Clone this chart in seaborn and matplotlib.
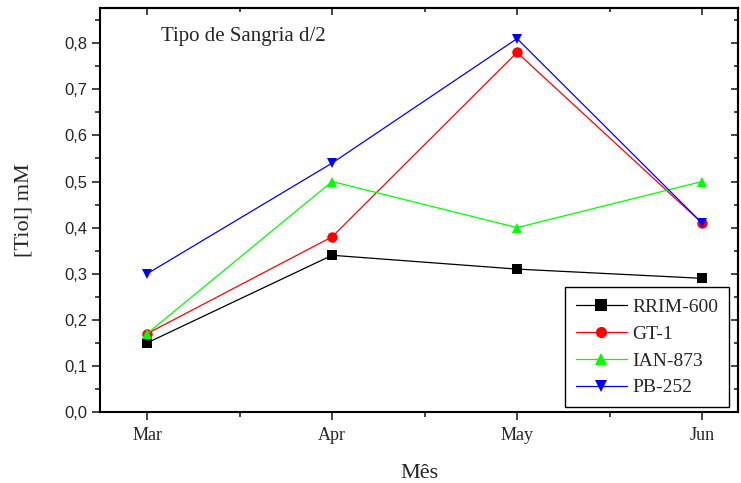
import matplotlib
matplotlib.use("Agg")
import matplotlib.pyplot as plt
import seaborn as sns
import pandas as pd
from matplotlib.ticker import MultipleLocator, FixedLocator

months = ["Mar", "Apr", "May", "Jun"]
series_names = ["RRIM-600", "GT-1", "IAN-873", "PB-252"]
rrim600 = [0.15, 0.34, 0.31, 0.29]
gt1 = [0.17, 0.38, 0.78, 0.41]
ian873 = [0.17, 0.50, 0.40, 0.50]
pb252 = [0.30, 0.54, 0.81, 0.41]
yticks = [0.0, 0.1, 0.2, 0.3, 0.4, 0.5, 0.6, 0.7, 0.8]
ytick_labels = ["0,0", "0,1", "0,2", "0,3", "0,4", "0,5", "0,6", "0,7", "0,8"]

rows = []
for name, vals in zip(series_names, [rrim600, gt1, ian873, pb252]):
    for i, (m, v) in enumerate(zip(months, vals)):
        rows.append({"pos": i, "Mês": m, "Tiol": v, "Clone": name})
df = pd.DataFrame(rows)

sns.set_style("ticks")
serif = ["Liberation Serif", "DejaVu Serif"]
sans = ["Liberation Sans", "DejaVu Sans"]

fig = plt.figure(figsize=(7.41, 4.83), dpi=100)
ax = fig.add_axes([0.135, 0.147, 0.861, 0.836])

palette = {"RRIM-600": "#000000", "GT-1": "#ff0000", "IAN-873": "#00ff00", "PB-252": "#0000ff"}
markers = {"RRIM-600": "s", "GT-1": "o", "IAN-873": "^", "PB-252": "v"}
sns.lineplot(data=df, x="pos", y="Tiol", hue="Clone", style="Clone",
             palette=palette, markers=markers, dashes=False, linewidth=0.9,
             markersize=7.5, markeredgewidth=0, ax=ax, legend=True)

ax.set_xlim(-0.255, 3.195)
ax.set_ylim(0, 0.876)
ax.xaxis.set_major_locator(FixedLocator([0, 1, 2, 3]))
ax.set_xticklabels(months, fontfamily=serif, fontsize=13)
ax.xaxis.set_minor_locator(FixedLocator([0.5, 1.5, 2.5]))
ax.yaxis.set_major_locator(FixedLocator(yticks))
ax.set_yticklabels(ytick_labels, fontfamily=sans, fontsize=12)
ax.yaxis.set_minor_locator(MultipleLocator(0.05))

ax.tick_params(which="both", direction="out", width=1.2, top=False, right=False)
ax.tick_params(which="major", length=6, pad=3)
ax.tick_params(which="minor", length=3.5)
ax.tick_params(axis="x", which="major", pad=5)

# inward ticks on top and right
secx = ax.secondary_xaxis("top")
secx.set_xticks([0, 1, 2, 3])
secx.xaxis.set_minor_locator(FixedLocator([0.5, 1.5, 2.5]))
secx.tick_params(which="both", direction="in", width=1.2, labeltop=False)
secx.tick_params(which="major", length=5)
secx.tick_params(which="minor", length=3)
secy = ax.secondary_yaxis("right")
secy.set_yticks(yticks)
secy.yaxis.set_minor_locator(MultipleLocator(0.05))
secy.tick_params(which="both", direction="in", width=1.2, labelright=False)
secy.tick_params(which="major", length=5)
secy.tick_params(which="minor", length=3)

for s in ax.spines.values():
    s.set_linewidth(1.5)
    s.set_color("black")
for sec in (secx, secy):
    for s in sec.spines.values():
        s.set_linewidth(1.5)

ax.set_xlabel("Mês", fontfamily=serif, fontsize=16, labelpad=14)
ax.set_ylabel("[Tiol] mM", fontfamily=serif, fontsize=16, labelpad=22)

ax.text(0.096, 0.93, "Tipo de Sangria d/2", transform=ax.transAxes,
        fontfamily=serif, fontsize=15, va="center", ha="left")

leg = ax.legend(title=None, loc="lower right", bbox_to_anchor=(0.986, 0.012),
                prop={"family": serif, "size": 14}, frameon=True, fancybox=False,
                edgecolor="black", framealpha=1, borderpad=0.55, handlelength=2.6,
                handletextpad=0.3, labelspacing=0.48, borderaxespad=0)
leg.get_frame().set_linewidth(1.0)
for h in leg.legend_handles:
    h.set_markersize(8)
    h.set_linewidth(0.9)

fig.savefig("out.png", dpi=100)
